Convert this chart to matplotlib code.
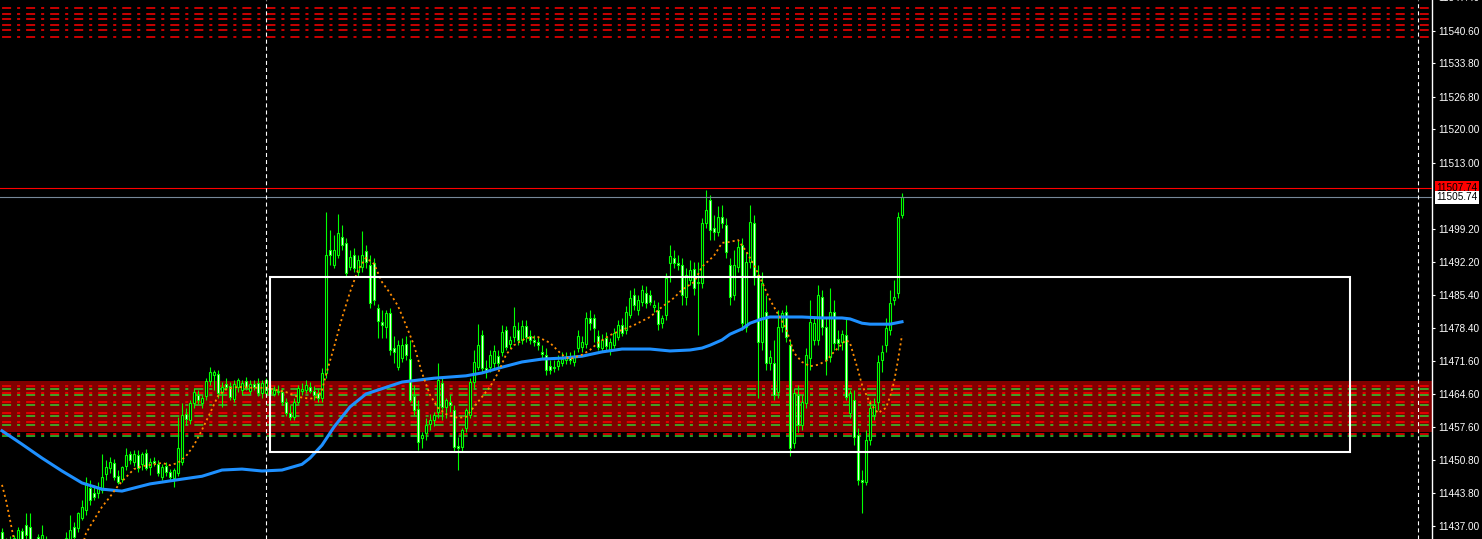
import numpy as np
import matplotlib
matplotlib.use('Agg')
import matplotlib.pyplot as plt
from matplotlib.patches import Rectangle

plt.rcParams['lines.scale_dashes'] = False
plt.rcParams['font.family'] = ['Liberation Sans', 'DejaVu Sans']

# candles (one per bar, oldest first)
opens = [
    11435.8, 11433.0, 11433.9, 11431.6, 11433.7, 11436.0, 11437.2, 11436.8, 11433.0, 11434.7,
    11432.4, 11434.1, 11429.9, 11432.0, 11432.0, 11430.7, 11433.0, 11434.1, 11436.8, 11436.6,
    11438.7, 11440.3, 11444.9, 11443.9, 11443.9, 11444.5, 11447.9, 11449.1, 11450.2, 11447.4,
    11446.8, 11449.5, 11452.0, 11450.4, 11451.8, 11449.9, 11452.2, 11449.3, 11450.6, 11449.9,
    11447.2, 11449.5, 11448.3, 11447.0, 11448.1, 11450.4, 11460.4, 11459.2, 11462.7, 11464.4,
    11462.7, 11464.2, 11467.3, 11468.6, 11468.8, 11465.0, 11466.7, 11466.3, 11463.6, 11466.1,
    11465.4, 11467.3, 11465.2, 11466.7, 11466.9, 11464.8, 11464.8, 11465.9, 11464.6, 11465.2,
    11465.0, 11462.9, 11460.6, 11459.8, 11462.9, 11465.2, 11465.4, 11466.1, 11465.2, 11464.8,
    11463.8, 11469.0, 11494.7, 11491.6, 11493.7, 11497.5, 11496.2, 11491.2, 11493.7, 11490.1,
    11491.2, 11494.5, 11491.6, 11492.0, 11482.6, 11479.7, 11478.6, 11481.5, 11474.2, 11470.2,
    11472.1, 11475.0, 11471.9, 11464.2, 11461.5, 11455.4, 11456.4, 11458.3, 11459.2, 11460.8,
    11466.9, 11461.9, 11462.9, 11461.3, 11453.7, 11453.5, 11457.5, 11460.2, 11467.1, 11470.2,
    11476.9, 11470.0, 11470.2, 11471.1, 11472.5, 11473.4, 11478.0, 11475.0, 11476.5, 11478.0,
    11475.9, 11478.8, 11476.7, 11475.9, 11475.5, 11473.4, 11472.8, 11470.4, 11470.2, 11470.4,
    11471.1, 11471.7, 11472.1, 11471.3, 11474.2, 11474.4, 11475.0, 11480.5, 11480.5, 11476.7,
    11474.2, 11476.3, 11473.8, 11474.8, 11476.5, 11479.0, 11478.0, 11481.1, 11485.3, 11482.2,
    11483.8, 11485.7, 11485.3, 11482.8, 11482.2, 11479.4, 11481.1, 11492.0, 11493.1, 11492.0,
    11491.6, 11484.9, 11488.4, 11490.7, 11488.0, 11487.8, 11500.4, 11505.2, 11499.3, 11498.5,
    11501.6, 11500.0, 11491.6, 11485.3, 11491.2, 11495.8, 11478.6, 11492.2, 11500.4, 11489.5,
    11475.5, 11481.7, 11471.1, 11471.1, 11465.0, 11478.6, 11481.7, 11474.8, 11454.4, 11464.4,
    11458.1, 11462.7, 11472.1, 11475.9, 11475.9, 11484.9, 11478.6, 11472.3, 11481.7, 11476.1,
    11475.5, 11476.9, 11460.6, 11463.4, 11456.0, 11446.6, 11446.2, 11455.0, 11460.2, 11462.9,
    11471.7, 11474.8, 11478.0, 11484.3, 11485.7, 11502.0,
]
highs = [
    11436.6, 11434.5, 11434.9, 11435.1, 11436.8, 11436.6, 11439.7, 11439.7, 11434.1, 11435.3,
    11437.2, 11434.9, 11433.0, 11433.0, 11432.8, 11434.1, 11435.8, 11439.3, 11437.8, 11439.9,
    11442.4, 11447.2, 11446.6, 11445.6, 11446.2, 11452.0, 11450.8, 11451.4, 11451.0, 11448.7,
    11449.5, 11453.3, 11452.7, 11452.9, 11452.9, 11452.5, 11453.1, 11451.2, 11451.4, 11450.8,
    11449.9, 11450.4, 11448.9, 11449.1, 11459.8, 11462.7, 11461.7, 11463.4, 11465.9, 11465.4,
    11464.4, 11467.9, 11470.2, 11469.6, 11469.6, 11467.1, 11467.9, 11467.1, 11467.5, 11467.9,
    11467.5, 11468.2, 11467.5, 11467.5, 11467.9, 11467.5, 11467.9, 11466.7, 11466.3, 11466.5,
    11465.9, 11463.8, 11462.3, 11463.8, 11466.5, 11466.9, 11467.5, 11467.1, 11466.3, 11465.9,
    11470.0, 11502.7, 11498.9, 11497.9, 11502.3, 11500.0, 11497.3, 11494.7, 11495.2, 11493.7,
    11498.7, 11495.8, 11493.7, 11493.1, 11483.4, 11482.2, 11482.2, 11482.6, 11476.7, 11475.9,
    11476.3, 11476.7, 11475.9, 11466.5, 11463.4, 11456.7, 11459.6, 11460.4, 11460.8, 11471.1,
    11467.9, 11463.8, 11464.4, 11462.3, 11455.6, 11457.5, 11461.7, 11467.9, 11473.8, 11479.2,
    11478.0, 11471.7, 11473.8, 11474.8, 11473.8, 11479.0, 11478.8, 11476.7, 11482.8, 11479.7,
    11480.1, 11480.1, 11478.0, 11476.9, 11476.7, 11474.8, 11474.2, 11471.7, 11471.7, 11472.8,
    11473.4, 11473.4, 11473.4, 11473.8, 11478.0, 11476.7, 11481.7, 11482.2, 11481.3, 11478.0,
    11477.1, 11477.6, 11476.3, 11478.4, 11480.1, 11480.5, 11483.0, 11486.4, 11486.8, 11485.3,
    11487.4, 11487.2, 11486.4, 11484.3, 11483.8, 11481.1, 11489.9, 11495.8, 11494.7, 11493.7,
    11493.1, 11491.0, 11492.6, 11492.2, 11492.2, 11501.4, 11507.3, 11506.2, 11502.0, 11503.9,
    11504.1, 11501.4, 11493.1, 11494.7, 11496.8, 11497.3, 11494.3, 11504.1, 11502.0, 11491.6,
    11490.1, 11485.3, 11473.8, 11475.9, 11482.2, 11482.2, 11483.2, 11475.9, 11465.9, 11466.5,
    11464.4, 11474.2, 11484.3, 11480.5, 11487.4, 11486.4, 11480.5, 11486.8, 11484.3, 11478.0,
    11478.0, 11480.5, 11465.4, 11465.4, 11457.5, 11448.7, 11457.1, 11463.4, 11463.8, 11472.8,
    11474.8, 11480.5, 11486.4, 11488.4, 11502.7, 11506.6,
]
lows = [
    11432.0, 11430.3, 11429.5, 11430.7, 11432.4, 11432.8, 11434.1, 11432.4, 11430.7, 11431.6,
    11431.6, 11428.9, 11428.9, 11430.7, 11429.5, 11429.9, 11432.4, 11433.0, 11433.7, 11435.8,
    11438.3, 11439.3, 11441.4, 11442.4, 11442.9, 11443.9, 11446.6, 11448.1, 11446.6, 11445.8,
    11446.2, 11448.7, 11449.9, 11449.5, 11448.3, 11448.7, 11448.7, 11447.6, 11449.5, 11447.4,
    11446.6, 11447.4, 11446.6, 11445.1, 11447.4, 11449.7, 11458.1, 11458.3, 11461.7, 11462.5,
    11461.7, 11463.4, 11466.5, 11465.4, 11463.8, 11461.9, 11465.4, 11463.4, 11462.9, 11465.0,
    11464.4, 11465.4, 11464.6, 11465.4, 11464.2, 11463.8, 11464.2, 11464.4, 11464.2, 11464.4,
    11462.3, 11460.0, 11459.2, 11459.2, 11462.5, 11464.4, 11464.8, 11464.8, 11463.4, 11462.9,
    11462.9, 11467.9, 11491.6, 11491.0, 11493.1, 11494.7, 11489.3, 11490.5, 11490.1, 11489.3,
    11490.1, 11491.0, 11482.6, 11483.2, 11476.3, 11476.3, 11476.3, 11472.8, 11471.1, 11469.6,
    11471.3, 11471.7, 11462.9, 11460.2, 11452.9, 11453.3, 11455.0, 11457.1, 11457.9, 11459.6,
    11459.2, 11459.6, 11460.8, 11452.5, 11448.7, 11452.5, 11456.7, 11459.6, 11465.9, 11469.6,
    11469.2, 11467.9, 11469.2, 11470.0, 11470.0, 11472.5, 11473.8, 11474.2, 11475.5, 11474.8,
    11475.0, 11475.5, 11475.0, 11474.6, 11473.8, 11472.1, 11468.6, 11468.8, 11469.2, 11469.6,
    11470.4, 11470.9, 11470.9, 11470.4, 11473.4, 11473.4, 11474.2, 11478.0, 11475.5, 11473.8,
    11473.4, 11473.8, 11472.8, 11474.2, 11475.9, 11476.7, 11477.1, 11480.5, 11482.2, 11481.1,
    11483.0, 11482.6, 11483.2, 11481.7, 11478.0, 11478.4, 11480.1, 11488.0, 11491.0, 11490.5,
    11483.2, 11483.2, 11487.4, 11485.3, 11476.9, 11486.8, 11499.3, 11496.8, 11496.8, 11497.7,
    11499.3, 11493.1, 11483.2, 11484.3, 11490.1, 11478.0, 11477.6, 11491.0, 11487.4, 11463.8,
    11473.8, 11469.6, 11469.6, 11463.4, 11463.8, 11477.6, 11475.5, 11451.6, 11453.3, 11456.7,
    11457.1, 11461.7, 11469.6, 11474.8, 11474.8, 11476.9, 11468.6, 11471.3, 11473.8, 11473.8,
    11473.8, 11463.4, 11459.6, 11453.9, 11445.6, 11439.7, 11445.6, 11453.9, 11459.2, 11461.3,
    11469.2, 11473.4, 11476.9, 11483.2, 11484.7, 11501.4,
]
closes = [
    11433.0, 11433.9, 11431.6, 11434.5, 11436.2, 11434.1, 11435.1, 11433.0, 11432.6, 11432.4,
    11435.1, 11429.9, 11432.0, 11432.4, 11430.3, 11433.7, 11434.5, 11436.2, 11434.7, 11439.7,
    11441.0, 11446.0, 11442.4, 11443.1, 11444.9, 11447.2, 11449.3, 11450.4, 11447.2, 11446.2,
    11449.3, 11451.8, 11450.8, 11452.0, 11449.1, 11452.0, 11449.1, 11450.4, 11450.2, 11448.1,
    11449.3, 11448.3, 11447.2, 11448.7, 11453.3, 11460.2, 11459.4, 11462.7, 11465.0, 11463.4,
    11463.8, 11467.3, 11469.2, 11469.2, 11464.8, 11466.1, 11466.1, 11464.0, 11466.7, 11467.5,
    11466.9, 11466.1, 11466.7, 11466.1, 11464.8, 11466.9, 11467.5, 11464.8, 11465.4, 11465.0,
    11462.9, 11460.6, 11459.8, 11462.9, 11465.9, 11465.6, 11466.5, 11465.2, 11464.4, 11463.8,
    11469.0, 11493.7, 11493.7, 11494.7, 11498.3, 11495.8, 11489.9, 11493.3, 11491.0, 11492.6,
    11493.7, 11492.2, 11483.6, 11484.3, 11479.9, 11479.0, 11481.5, 11473.8, 11473.4, 11474.8,
    11474.8, 11472.8, 11463.4, 11461.3, 11454.6, 11456.0, 11458.1, 11459.2, 11460.2, 11467.5,
    11461.9, 11463.4, 11462.3, 11453.5, 11453.3, 11457.1, 11461.3, 11467.1, 11471.3, 11474.8,
    11470.0, 11469.2, 11472.8, 11473.6, 11471.1, 11477.6, 11474.4, 11475.9, 11478.8, 11475.9,
    11478.8, 11476.5, 11475.9, 11475.5, 11474.8, 11473.0, 11469.6, 11469.6, 11470.0, 11471.5,
    11471.9, 11472.3, 11471.7, 11472.5, 11476.7, 11475.5, 11480.5, 11479.4, 11478.4, 11474.4,
    11475.9, 11474.6, 11475.5, 11477.3, 11479.0, 11477.3, 11481.7, 11484.7, 11483.2, 11484.3,
    11486.4, 11483.6, 11483.8, 11483.2, 11479.2, 11480.5, 11488.9, 11493.5, 11492.0, 11491.6,
    11485.3, 11489.5, 11490.5, 11486.8, 11487.8, 11500.4, 11503.1, 11498.9, 11498.5, 11501.6,
    11500.4, 11494.3, 11484.9, 11491.6, 11495.4, 11479.4, 11492.2, 11500.6, 11489.1, 11475.5,
    11487.8, 11471.1, 11472.3, 11464.4, 11478.6, 11481.5, 11476.5, 11453.3, 11464.8, 11458.1,
    11462.9, 11472.8, 11479.7, 11479.4, 11485.3, 11478.6, 11471.7, 11481.7, 11475.3, 11475.3,
    11477.1, 11464.0, 11464.8, 11455.6, 11446.6, 11446.2, 11455.0, 11461.7, 11462.3, 11471.3,
    11473.4, 11478.4, 11483.6, 11484.9, 11501.6, 11505.74,
]

# slow moving average (blue), sampled at bar numbers
ma_idx = [0, 5, 10, 15, 20, 25, 30, 37, 45, 50,
          55, 60, 65, 70, 75, 77, 80, 83, 87, 91,
          100, 108, 116, 120, 125, 130, 135, 140, 145, 150,
          155, 162, 167, 172, 175, 177, 180, 182, 185, 187,
          190, 192, 200, 205, 210, 212, 215, 217, 222, 225]
ma_val = [11456.9, 11454.1, 11451.2, 11448.5, 11446.0, 11444.7, 11444.3, 11445.8, 11446.8, 11447.4,
          11448.7, 11448.9, 11448.5, 11448.7, 11449.9, 11451.2, 11453.9, 11457.7, 11461.9, 11464.6,
          11467.1, 11467.9, 11468.4, 11469.0, 11470.2, 11471.3, 11471.9, 11472.1, 11472.5, 11473.4,
          11474.0, 11474.0, 11473.6, 11473.8, 11474.2, 11474.8, 11475.9, 11477.1, 11478.2, 11479.4,
          11480.3, 11480.7, 11480.7, 11480.5, 11480.5, 11480.3, 11479.4, 11479.2, 11479.2, 11479.7]

# fast average (orange dotted)
fast_idx = [0, 1, 2, 3, 5, 10, 15, 19, 21, 23,
            25, 27, 29, 31, 33, 35, 38, 40, 42, 44,
            46, 48, 50, 52, 54, 56, 59, 62, 66, 71,
            74, 77, 79, 80, 81, 83, 85, 87, 89, 91,
            93, 95, 97, 99, 101, 103, 105, 107, 109, 111,
            114, 116, 118, 120, 122, 124, 126, 128, 131, 134,
            137, 140, 142, 145, 147, 149, 152, 155, 158, 162,
            165, 168, 170, 173, 175, 178, 180, 182, 184, 186,
            188, 190, 192, 194, 196, 198, 200, 202, 204, 206,
            208, 211, 212, 214, 215, 217, 219, 221, 222, 223,
            224, 225]
fast_val = [11445.6, 11442.4, 11438.3, 11434.1, 11427.5, 11424.5, 11424.5, 11429.5, 11435.5, 11438.3,
            11441.0, 11443.1, 11445.4, 11447.2, 11448.9, 11449.5, 11449.9, 11450.2, 11449.7, 11450.2,
            11451.6, 11453.9, 11457.1, 11460.6, 11464.2, 11465.6, 11466.1, 11465.9, 11465.9, 11465.0,
            11464.0, 11463.6, 11464.0, 11465.4, 11468.6, 11474.4, 11480.5, 11485.9, 11490.5, 11493.1,
            11491.8, 11488.0, 11485.7, 11483.0, 11479.0, 11474.8, 11469.0, 11464.4, 11461.7, 11460.4,
            11459.6, 11459.8, 11461.9, 11464.0, 11466.1, 11469.0, 11472.8, 11474.8, 11476.3, 11476.5,
            11475.3, 11472.8, 11471.9, 11472.8, 11473.8, 11475.3, 11476.9, 11478.0, 11479.0, 11480.7,
            11482.8, 11484.7, 11486.4, 11488.0, 11491.2, 11493.5, 11496.2, 11496.4, 11496.8, 11494.5,
            11491.6, 11488.0, 11484.3, 11481.3, 11478.4, 11473.2, 11471.3, 11470.4, 11470.7, 11471.5,
            11473.4, 11475.9, 11475.3, 11469.6, 11466.5, 11462.7, 11460.6, 11461.7, 11464.0, 11467.1,
            11471.7, 11476.9]

# horizontal levels
top_red = [11545.3, 11544.05, 11543.0, 11541.75, 11540.7, 11539.25]
band_red = [11466.2, 11464.75, 11462.9, 11460.55, 11458.7, 11456.2]
band_green = [11465.6, 11464.3, 11462.25, 11459.95, 11458.05, 11455.75]
zone_low, zone_high = 11456.65, 11467.3
ask_price, bid_price = 11507.74, 11505.74
box_left, box_right, box_low, box_high = 66.9, 337, 11452.47, 11489.06
vlines_at = [66, 354]

yticks = [11540.60, 11533.80, 11526.80, 11520.00, 11513.00, 11499.20, 11492.20,
          11485.40, 11478.40, 11471.60, 11464.60, 11457.60, 11450.80, 11443.80, 11437.00]

fig = plt.figure(figsize=(14.82, 5.39), dpi=100, facecolor='black')
ax = fig.add_axes([0, 0, 1432 / 1482, 1])
ax.set_facecolor('black')

ax.axhspan(zone_low, zone_high, color='#800000', lw=0, zorder=1)
dashdot = (15.8, (6.5, 4.3, 2.2, 4.3))
for y in top_red + band_red:
    ax.axhline(y, color='#ff0000', lw=1.1, linestyle=dashdot, zorder=2)
for y in band_green:
    ax.axhline(y, color='#32cd32', lw=1.1, linestyle=dashdot, zorder=2)

o = np.array(opens)
c = np.array(closes)
x = np.arange(len(o))
bull = c >= o
bottoms = np.minimum(o, c)
heights = np.maximum(np.abs(c - o), 0.15)
fills = np.where(bull, 'black', 'white')
ax.vlines(x, lows, highs, color='#00ff00', lw=0.8, zorder=3)
ax.bar(x, heights, bottom=bottoms, width=0.6, color=fills, edgecolor='#00ff00',
       linewidth=0.8, zorder=4)

ax.plot(ma_idx, ma_val, color='#1e90ff', lw=2.2, zorder=5)
ax.plot(fast_idx, fast_val, color='#ff8c00', lw=1.3, linestyle=(0, (1.5, 2.2)), zorder=5)

ax.axhline(ask_price, color='#ff0000', lw=0.8, zorder=6)
ax.axhline(bid_price, color='#778899', lw=0.8, zorder=6)
for v in vlines_at:
    ax.axvline(v, color='white', lw=0.8, linestyle=(0, (2.9, 2.2)), zorder=6)

ax.add_patch(Rectangle((box_left, box_low), box_right - box_left, box_high - box_low,
                       fill=False, edgecolor='white', lw=1.5, zorder=7))

ax.set_xlim(-0.5, 357.5)
ax.set_ylim(11434.28, 11546.98)
ax.set_xticks([])
ax.yaxis.tick_right()
ax.set_yticks(yticks)
ax.set_yticklabels(['%.2f' % t for t in yticks])
ax.tick_params(axis='y', colors='white', length=2.5, width=0.8, labelsize=7.2, pad=2)
for s in ['top', 'left', 'bottom']:
    ax.spines[s].set_visible(False)
ax.spines['right'].set_color('white')
ax.spines['right'].set_linewidth(1)

ytr = ax.get_yaxis_transform()
ax.annotate('%.2f' % ask_price, xy=(1, ask_price), xycoords=ytr, xytext=(3.2, 0),
            textcoords='offset points', ha='left', va='center', fontsize=7.2, color='black',
            bbox=dict(facecolor='#ff0000', edgecolor='none', boxstyle='square,pad=0.15'),
            annotation_clip=False, zorder=10)
ax.annotate('%.2f' % bid_price, xy=(1, bid_price), xycoords=ytr, xytext=(3.2, 0),
            textcoords='offset points', ha='left', va='center', fontsize=7.2, color='black',
            bbox=dict(facecolor='white', edgecolor='none', boxstyle='square,pad=0.15'),
            annotation_clip=False, zorder=10)
# partly hidden top label, cut by the window edge as in the terminal
ax.annotate('11547.40', xy=(1, 11547.4), xycoords=ytr, xytext=(4.3, 0),
            textcoords='offset points', ha='left', va='center', fontsize=7.2, color='white',
            annotation_clip=False)

fig.savefig('out.png', dpi=100, facecolor='black')
